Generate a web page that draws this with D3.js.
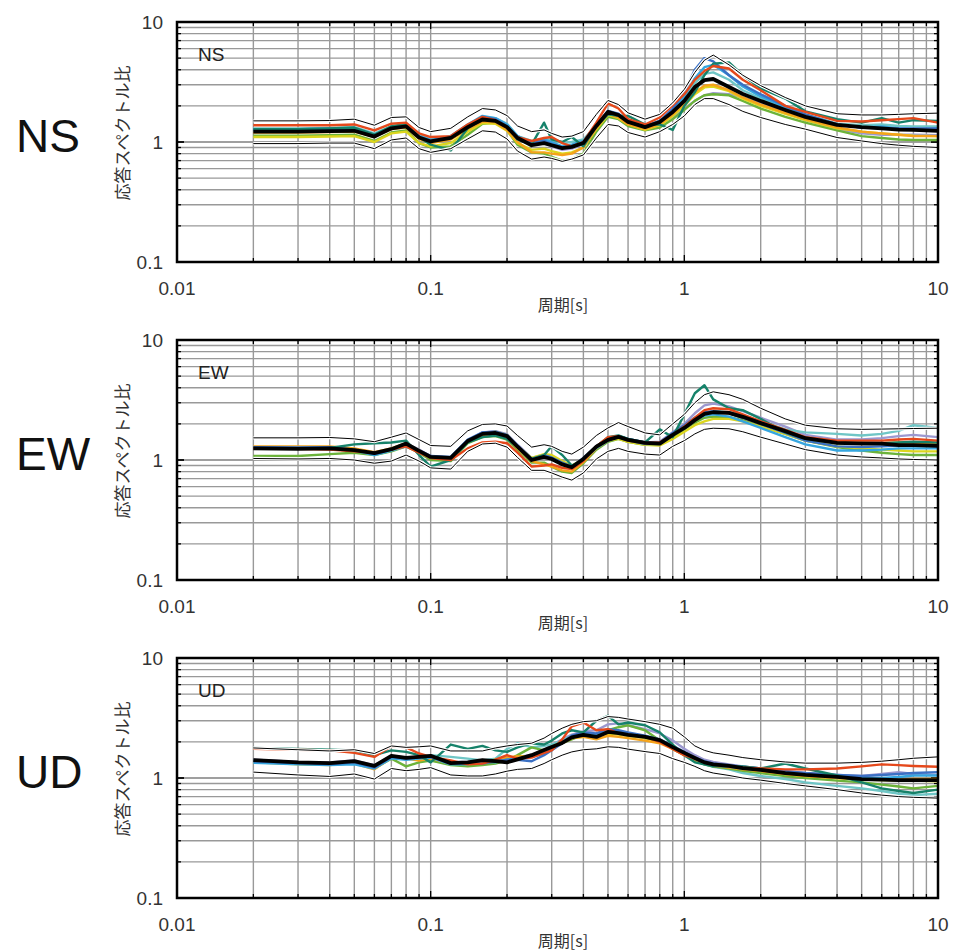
<!DOCTYPE html>
<html><head><meta charset="utf-8">
<script src="https://cdn.jsdelivr.net/npm/d3@7"></script>
<style>body{margin:0;background:#fff}</style>
</head><body><svg id="c" width="961" height="952"></svg>
<script>
const periods=[0.02,0.03,0.04,0.05,0.06,0.07,0.08,0.09,0.1,0.12,0.14,0.16,0.18,0.2,0.22,0.25,0.28,0.3,0.33,0.36,0.4,0.45,0.5,0.55,0.6,0.7,0.8,0.9,1.0,1.1,1.2,1.3,1.5,1.7,2.0,2.5,3,4,5,6,7,8,10];
const xTickLabels=["0.01","0.1","1","10"];
const xTickValues=[0.01,0.1,1,10];
const yTickLabels=["0.1","1","10"];
const yTickValues=[0.1,1,10];
const components=["NS","EW","UD"];
const xTitle="周期[s]";
const yTitle="応答スペクトル比";
const seriesNames=["lavender","lightteal","green","yellow","orange","lightblue","blue","teal","red"];
const seriesColors=["#9C98CF","#6FC6C6","#6CB33A","#DCD61E","#F5A31A","#35A6E0","#3A70C4","#16826A","#E5481B"];

// ---- NS ----
const nsMean=[1.22,1.22,1.23,1.24,1.11,1.30,1.35,1.09,1.01,1.08,1.33,1.54,1.50,1.33,1.08,0.94,0.98,0.94,0.89,0.91,0.98,1.36,1.78,1.68,1.47,1.33,1.47,1.78,2.20,2.87,3.28,3.35,2.87,2.51,2.20,1.85,1.62,1.39,1.33,1.30,1.27,1.26,1.24];
const nsUpper=[1.50,1.50,1.51,1.55,1.38,1.60,1.62,1.32,1.22,1.30,1.62,1.90,1.85,1.66,1.36,1.22,1.26,1.18,1.10,1.12,1.22,1.70,2.22,2.05,1.75,1.55,1.70,2.12,2.75,3.80,4.80,5.30,4.40,3.60,2.95,2.35,2.00,1.72,1.68,1.68,1.70,1.72,1.74];
const nsLower=[0.97,0.97,0.98,0.98,0.88,1.04,1.08,0.88,0.82,0.88,1.06,1.24,1.21,1.06,0.84,0.72,0.75,0.73,0.69,0.72,0.78,1.08,1.40,1.36,1.20,1.10,1.22,1.40,1.65,2.05,2.30,2.30,2.05,1.80,1.60,1.40,1.28,1.09,1.02,0.97,0.94,0.92,0.90];
const nsLavender=[1.25,1.25,1.27,1.30,1.15,1.30,1.35,1.10,1.02,1.08,1.35,1.58,1.52,1.35,1.10,0.96,0.98,0.92,0.86,0.88,0.96,1.32,1.70,1.62,1.42,1.32,1.40,1.62,1.90,2.20,2.45,2.55,2.50,2.35,2.10,1.75,1.52,1.28,1.18,1.15,1.15,1.15,1.14];
const nsLightTeal=[1.30,1.30,1.31,1.33,1.18,1.35,1.42,1.15,1.05,1.10,1.38,1.62,1.58,1.42,1.12,1.02,1.05,1.05,0.98,1.00,1.05,1.38,1.75,1.65,1.48,1.36,1.50,1.80,2.30,3.10,3.70,3.80,3.30,2.70,2.30,1.90,1.70,1.42,1.38,1.40,1.36,1.35,1.35];
const nsGreen=[1.13,1.13,1.14,1.15,1.02,1.20,1.25,0.98,0.90,0.92,1.15,1.42,1.45,1.25,0.95,0.82,0.80,0.75,0.70,0.72,0.80,1.22,1.62,1.55,1.36,1.25,1.32,1.55,1.85,2.20,2.45,2.50,2.45,2.20,1.90,1.62,1.45,1.25,1.12,1.08,1.05,1.04,1.04];
const nsYellow=[1.10,1.10,1.11,1.12,1.00,1.18,1.22,0.98,0.92,0.98,1.22,1.44,1.42,1.24,0.98,0.86,0.88,0.84,0.80,0.82,0.90,1.28,1.68,1.58,1.40,1.26,1.38,1.65,2.00,2.50,2.85,2.90,2.65,2.30,2.00,1.72,1.52,1.30,1.22,1.18,1.15,1.13,1.12];
const nsOrange=[1.20,1.20,1.21,1.22,1.10,1.28,1.32,1.06,0.98,1.05,1.28,1.48,1.46,1.26,1.00,0.82,0.82,0.80,0.78,0.80,0.90,1.30,1.72,1.60,1.40,1.28,1.40,1.70,2.10,2.60,2.95,3.00,2.70,2.35,2.05,1.75,1.55,1.32,1.22,1.18,1.15,1.12,1.12];
const nsLightBlue=[1.25,1.25,1.26,1.28,1.14,1.33,1.38,1.12,1.04,1.12,1.40,1.65,1.58,1.40,1.12,1.00,1.05,1.00,0.92,0.95,1.02,1.38,1.75,1.66,1.48,1.35,1.48,1.82,2.40,3.40,4.20,4.40,3.60,2.90,2.40,1.95,1.68,1.40,1.32,1.35,1.30,1.28,1.30];
const nsBlue=[1.28,1.28,1.29,1.30,1.15,1.32,1.38,1.10,1.02,1.10,1.38,1.62,1.55,1.36,1.10,0.98,1.02,0.96,0.90,0.92,1.00,1.40,1.82,1.72,1.50,1.35,1.50,1.90,2.60,4.00,5.00,4.70,3.60,3.00,2.50,2.00,1.70,1.40,1.32,1.30,1.30,1.30,1.30];
const nsTeal=[1.28,1.28,1.30,1.32,1.15,1.35,1.42,1.10,0.95,0.85,1.30,1.55,1.50,1.35,1.05,0.95,1.45,1.05,1.00,1.10,0.92,1.35,1.70,1.65,1.65,1.40,1.40,1.26,2.00,2.60,3.60,4.50,4.60,3.60,2.80,2.30,1.80,1.55,1.45,1.58,1.45,1.52,1.50];
const nsRed=[1.38,1.38,1.38,1.40,1.25,1.42,1.45,1.18,1.10,1.12,1.40,1.62,1.52,1.32,1.10,1.02,1.08,1.10,0.98,0.92,1.00,1.45,2.10,1.90,1.55,1.40,1.60,2.03,2.50,3.30,3.90,4.30,4.10,3.30,2.70,2.00,1.78,1.50,1.48,1.52,1.55,1.58,1.45];

// ---- EW ----
const ewMean=[1.25,1.24,1.25,1.21,1.14,1.23,1.37,1.19,1.06,1.04,1.44,1.65,1.68,1.58,1.29,1.00,1.06,1.02,0.92,0.87,1.02,1.29,1.47,1.56,1.47,1.39,1.37,1.62,1.85,2.15,2.42,2.50,2.47,2.29,2.03,1.74,1.52,1.39,1.37,1.37,1.33,1.33,1.31];
const ewUpper=[1.53,1.53,1.54,1.50,1.42,1.55,1.68,1.48,1.32,1.30,1.75,1.98,2.00,1.92,1.60,1.28,1.34,1.30,1.18,1.12,1.28,1.60,1.85,2.05,1.90,1.68,1.62,2.00,2.40,3.00,3.50,3.70,3.50,3.20,2.70,2.20,1.95,1.82,1.80,1.81,1.82,1.83,1.84];
const ewLower=[1.03,1.02,1.03,1.00,0.94,0.98,1.10,0.98,0.86,0.84,1.18,1.36,1.38,1.28,1.05,0.82,0.82,0.78,0.72,0.68,0.78,1.02,1.18,1.25,1.18,1.12,1.10,1.30,1.45,1.65,1.80,1.84,1.82,1.72,1.55,1.36,1.22,1.10,1.06,1.04,1.02,1.01,1.00];
const ewLavender=[1.25,1.25,1.25,1.22,1.14,1.24,1.38,1.22,1.08,1.04,1.45,1.70,1.74,1.64,1.34,1.04,1.10,1.05,0.95,0.88,1.02,1.30,1.50,1.58,1.50,1.40,1.42,1.70,2.00,2.45,2.85,2.95,2.80,2.55,2.25,1.90,1.62,1.48,1.48,1.52,1.58,1.62,1.55];
const ewLightTeal=[1.25,1.25,1.25,1.20,1.12,1.22,1.36,1.20,1.06,1.04,1.46,1.68,1.70,1.60,1.30,1.02,1.08,1.04,0.94,0.88,1.02,1.30,1.48,1.58,1.48,1.38,1.38,1.65,1.90,2.20,2.45,2.55,2.50,2.35,2.10,1.80,1.70,1.65,1.60,1.65,1.75,1.95,1.85];
const ewGreen=[1.08,1.08,1.12,1.15,1.10,1.18,1.30,1.15,1.00,0.98,1.38,1.55,1.58,1.48,1.22,0.95,0.95,0.88,0.80,0.78,0.94,1.22,1.42,1.50,1.42,1.34,1.34,1.55,1.80,2.05,2.25,2.30,2.28,2.15,1.92,1.65,1.45,1.28,1.20,1.15,1.12,1.10,1.10];
const ewYellow=[1.24,1.24,1.24,1.20,1.12,1.20,1.34,1.18,1.05,1.02,1.42,1.66,1.72,1.62,1.30,1.04,1.12,1.10,0.98,0.90,1.02,1.28,1.45,1.50,1.42,1.34,1.32,1.50,1.72,1.95,2.10,2.20,2.20,2.10,1.90,1.65,1.45,1.30,1.25,1.22,1.20,1.18,1.18];
const ewOrange=[1.30,1.30,1.30,1.25,1.16,1.25,1.38,1.20,1.06,1.04,1.42,1.62,1.65,1.55,1.25,0.98,0.92,0.88,0.82,0.80,0.96,1.25,1.45,1.55,1.48,1.40,1.40,1.62,1.85,2.15,2.40,2.48,2.45,2.25,2.00,1.72,1.52,1.40,1.38,1.38,1.40,1.40,1.38];
const ewLightBlue=[1.26,1.26,1.27,1.20,1.10,1.20,1.30,1.18,1.06,1.04,1.45,1.68,1.70,1.60,1.28,1.00,1.06,1.04,0.92,0.86,1.00,1.26,1.45,1.55,1.46,1.36,1.36,1.62,1.85,2.15,2.35,2.40,2.30,2.10,1.85,1.55,1.35,1.20,1.20,1.22,1.25,1.25,1.25];
const ewBlue=[1.28,1.27,1.28,1.22,1.12,1.22,1.35,1.20,1.08,1.06,1.48,1.70,1.72,1.62,1.32,1.02,1.10,1.05,0.95,0.88,1.04,1.30,1.50,1.58,1.50,1.40,1.40,1.68,1.95,2.25,2.50,2.55,2.45,2.25,2.00,1.68,1.45,1.30,1.28,1.30,1.32,1.33,1.30];
const ewTeal=[1.25,1.25,1.26,1.35,1.38,1.40,1.45,1.10,0.88,1.00,1.40,1.55,1.60,1.50,1.28,1.02,1.10,1.30,1.10,0.90,1.00,1.30,1.55,1.60,1.50,1.40,1.80,1.55,2.40,3.60,4.20,3.20,2.70,2.60,2.20,1.70,1.50,1.38,1.40,1.38,1.40,1.42,1.40];
const ewRed=[1.25,1.24,1.22,1.18,1.15,1.22,1.30,1.15,1.04,1.00,1.25,1.40,1.42,1.38,1.15,0.88,0.90,0.92,0.86,0.84,0.98,1.30,1.55,1.58,1.45,1.38,1.40,1.62,1.90,2.25,2.60,2.70,2.65,2.40,2.10,1.78,1.55,1.45,1.45,1.45,1.48,1.50,1.45];

// ---- UD ----
const udMean=[1.41,1.35,1.33,1.38,1.26,1.53,1.47,1.50,1.53,1.33,1.35,1.41,1.38,1.35,1.43,1.55,1.71,1.81,1.96,2.18,2.29,2.20,2.42,2.37,2.29,2.20,2.07,1.81,1.62,1.47,1.35,1.30,1.26,1.21,1.17,1.10,1.06,1.02,0.98,0.97,0.96,0.96,0.96];
const udUpper=[1.78,1.72,1.68,1.72,1.60,1.85,1.80,1.82,1.85,1.68,1.68,1.68,1.78,1.85,1.90,1.95,2.15,2.35,2.60,2.80,2.95,3.00,3.25,3.20,3.10,2.95,2.80,2.60,2.20,1.85,1.70,1.62,1.55,1.48,1.42,1.36,1.33,1.33,1.35,1.38,1.42,1.46,1.50];
const udLower=[1.12,1.06,1.03,1.08,0.98,1.20,1.15,1.18,1.22,1.06,1.04,1.04,1.08,1.14,1.18,1.20,1.32,1.42,1.55,1.65,1.72,1.75,1.82,1.80,1.74,1.66,1.60,1.45,1.35,1.25,1.15,1.10,1.05,1.00,0.96,0.90,0.86,0.80,0.75,0.72,0.70,0.69,0.68];
const udLavender=[1.42,1.36,1.35,1.40,1.28,1.52,1.48,1.50,1.52,1.36,1.36,1.38,1.42,1.46,1.50,1.55,1.70,1.88,2.10,2.30,2.45,2.50,2.80,2.85,2.75,2.55,2.35,2.05,1.75,1.55,1.42,1.36,1.30,1.25,1.20,1.14,1.10,1.06,1.04,1.08,1.12,1.08,1.06];
const udLightTeal=[1.40,1.35,1.33,1.36,1.25,1.50,1.45,1.48,1.55,1.50,1.45,1.40,1.45,1.75,1.95,1.80,1.85,1.90,2.05,2.25,2.30,2.35,2.50,2.40,2.35,2.20,2.05,1.80,1.55,1.40,1.30,1.24,1.18,1.10,1.04,0.98,0.92,0.86,0.82,0.78,0.74,0.72,0.74];
const udGreen=[1.36,1.32,1.30,1.33,1.20,1.45,1.25,1.35,1.40,1.28,1.25,1.28,1.32,1.40,1.55,1.80,1.70,1.80,1.95,2.10,2.30,2.20,2.50,2.65,2.75,2.50,2.05,1.75,1.55,1.40,1.30,1.25,1.20,1.15,1.10,1.04,1.00,0.95,0.92,0.88,0.85,0.82,0.86];
const udYellow=[1.35,1.30,1.28,1.33,1.22,1.50,1.45,1.48,1.52,1.36,1.35,1.36,1.42,1.46,1.50,1.52,1.68,1.82,2.00,2.15,2.20,2.25,2.35,2.30,2.25,2.15,2.00,1.78,1.58,1.44,1.33,1.28,1.24,1.20,1.15,1.08,1.04,1.00,0.97,0.96,0.95,0.95,0.94];
const udOrange=[1.36,1.32,1.30,1.32,1.18,1.48,1.45,1.40,1.45,1.32,1.33,1.34,1.40,1.48,1.52,1.50,1.60,1.78,1.95,2.15,2.20,2.10,2.25,2.20,2.15,2.05,1.95,1.75,1.55,1.42,1.32,1.26,1.22,1.18,1.14,1.08,1.04,1.00,0.98,0.97,0.97,0.98,0.98];
const udLightBlue=[1.34,1.30,1.28,1.30,1.20,1.46,1.42,1.45,1.48,1.30,1.30,1.38,1.35,1.42,1.46,1.50,1.62,1.80,2.00,2.20,2.35,2.30,2.40,2.40,2.30,2.20,2.05,1.80,1.60,1.45,1.33,1.28,1.24,1.20,1.16,1.10,1.06,1.02,1.00,1.00,1.02,1.05,1.05];
const udBlue=[1.38,1.33,1.30,1.35,1.22,1.50,1.45,1.48,1.50,1.32,1.32,1.32,1.38,1.42,1.42,1.38,1.55,1.70,1.95,2.25,2.40,2.35,2.55,2.50,2.40,2.25,2.10,1.85,1.65,1.48,1.38,1.32,1.28,1.24,1.20,1.14,1.10,1.06,1.04,1.06,1.08,1.10,1.12];
const udTeal=[1.78,1.75,1.72,1.70,1.55,1.70,1.65,1.55,1.35,1.90,1.75,1.85,1.70,1.65,1.80,1.95,1.90,2.05,2.35,2.50,2.40,3.00,3.30,2.80,2.90,2.75,2.40,1.90,1.55,1.35,1.30,1.25,1.25,1.25,1.20,1.32,1.20,1.05,0.92,0.82,0.78,0.75,0.80];
const udRed=[1.75,1.72,1.70,1.62,1.50,1.85,1.80,1.60,1.50,1.40,1.30,1.32,1.42,1.55,1.45,1.48,1.62,1.70,2.10,2.70,2.90,2.50,2.55,2.35,2.30,2.20,2.00,1.75,1.55,1.45,1.35,1.30,1.25,1.22,1.20,1.18,1.18,1.20,1.25,1.30,1.28,1.26,1.24];

const panels=[
 {name:"NS",mean:nsMean,upper:nsUpper,lower:nsLower,series:[nsLavender,nsLightTeal,nsGreen,nsYellow,nsOrange,nsLightBlue,nsBlue,nsTeal,nsRed]},
 {name:"EW",mean:ewMean,upper:ewUpper,lower:ewLower,series:[ewLavender,ewLightTeal,ewGreen,ewYellow,ewOrange,ewLightBlue,ewBlue,ewTeal,ewRed]},
 {name:"UD",mean:udMean,upper:udUpper,lower:udLower,series:[udLavender,udLightTeal,udGreen,udYellow,udOrange,udLightBlue,udBlue,udTeal,udRed]}
];

const svg=d3.select("#c");
const L=177,R=938,H=240,tops=[22,340,658];
const x=d3.scaleLog().domain([0.01,10]).range([L,R]);
const minorX=[];[0.01,0.1,1].forEach(d=>{for(let k=2;k<=10;k++)minorX.push(+(d*k).toPrecision(3));});
const minorY=[];[0.1,1].forEach(d=>{for(let k=2;k<=10;k++)if(!(d===1&&k===10))minorY.push(+(d*k).toPrecision(3));});
minorY.push(1);
const tickFont="'Liberation Sans',Arial,sans-serif";
const cjk="'Noto Sans CJK JP','Noto Sans',sans-serif";

panels.forEach((p,i)=>{
  const T=tops[i],B=T+H;
  const y=d3.scaleLog().domain([0.1,10]).range([B,T]);
  const g=svg.append("g");
  const cid="clip"+i;
  g.append("clipPath").attr("id",cid).append("rect").attr("x",L).attr("y",T).attr("width",R-L).attr("height",H);
  g.selectAll(".vg").data(minorX.filter(v=>v<10)).enter().append("line")
   .attr("x1",d=>x(d)).attr("x2",d=>x(d)).attr("y1",T).attr("y2",B)
   .attr("stroke","#999").attr("stroke-width",1.4);
  g.selectAll(".hg").data(minorY.filter(v=>v<10&&v>0.1)).enter().append("line")
   .attr("x1",L).attr("x2",R).attr("y1",d=>y(d)).attr("y2",d=>y(d))
   .attr("stroke","#999").attr("stroke-width",1.4);
  const tk=g.append("g").attr("stroke","#000").attr("stroke-width",1.3);
  minorX.filter(v=>v<10).forEach(v=>{
    const len=(v===0.1||v===1)?7:4;
    tk.append("line").attr("x1",x(v)).attr("x2",x(v)).attr("y1",B).attr("y2",B-len);
    tk.append("line").attr("x1",x(v)).attr("x2",x(v)).attr("y1",T).attr("y2",T+len);
  });
  minorY.filter(v=>v<10&&v>0.1).forEach(v=>{
    const len=(v===1)?7:4;
    tk.append("line").attr("x1",L).attr("x2",L+len).attr("y1",y(v)).attr("y2",y(v));
    tk.append("line").attr("x1",R).attr("x2",R-len).attr("y1",y(v)).attr("y2",y(v));
  });
  const line=d3.line().x((d,j)=>x(periods[j])).y(d=>y(d));
  const lg=g.append("g").attr("clip-path",`url(#${cid})`);
  p.series.forEach((s,k)=>{
    lg.append("path").attr("d",line(s)).attr("fill","none").attr("stroke",seriesColors[k]).attr("stroke-width",2.4).attr("stroke-linejoin","round");
  });
  [p.upper,p.lower].forEach(s=>{
    lg.append("path").attr("d",line(s)).attr("fill","none").attr("stroke","#fff").attr("stroke-width",3.2);
    lg.append("path").attr("d",line(s)).attr("fill","none").attr("stroke","#000").attr("stroke-width",1);
  });
  lg.append("path").attr("d",line(p.mean)).attr("fill","none").attr("stroke","#000").attr("stroke-width",3.8).attr("stroke-linejoin","round");
  g.append("rect").attr("x",L).attr("y",T).attr("width",R-L).attr("height",H).attr("fill","none").attr("stroke","#000").attr("stroke-width",2.5);
  yTickValues.forEach((v,k)=>{
    g.append("text").attr("x",163).attr("y",y(v)+7).attr("text-anchor","end")
     .attr("font-family",tickFont).attr("font-size",19).attr("fill","#333").text(yTickLabels[k]);
  });
  xTickValues.forEach((v,k)=>{
    g.append("text").attr("x",x(v)).attr("y",B+33).attr("text-anchor","middle")
     .attr("font-family",tickFont).attr("font-size",19).attr("fill","#333").text(xTickLabels[k]);
  });
  g.append("text").attr("x",563).attr("y",B+49).attr("text-anchor","middle")
   .attr("font-family",cjk).attr("font-size",16).attr("fill","#333").text(xTitle);
  g.append("text").attr("transform",`translate(121,${T+111}) rotate(-90)`).attr("text-anchor","middle")
   .attr("dominant-baseline","central").attr("font-family",cjk).attr("font-size",17).attr("fill","#333").text(yTitle);
  g.append("text").attr("x",198).attr("y",T+39).attr("font-family",tickFont).attr("font-size",19).attr("fill","#222").text(p.name);
  g.append("text").attr("x",16).attr("y",T+130).attr("font-family",tickFont).attr("font-size",46).attr("fill","#111").text(components[i]);
});
</script></body></html>
